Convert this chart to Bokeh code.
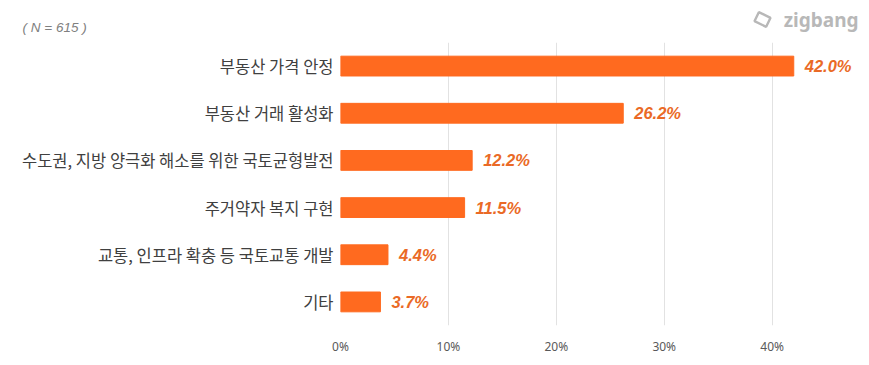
from bokeh.plotting import figure
from bokeh.layouts import column
from bokeh.models import ColumnDataSource, FactorRange, Range1d, FixedTicker
from bokeh.core.properties import value
from bokeh.embed import file_html
from bokeh.resources import INLINE

categories = ["부동산 가격 안정", "부동산 거래 활성화", "수도권, 지방 양극화 해소를 위한 국토균형발전",
              "주거약자 복지 구현", "교통, 인프라 확충 등 국토교통 개발", "기타"]
values = [42.0, 26.2, 12.2, 11.5, 4.4, 3.7]
value_labels = ["42.0%", "26.2%", "12.2%", "11.5%", "4.4%", "3.7%"]
x_ticks = [0, 10, 20, 30, 40]
x_tick_labels = {0: "0%", 10: "10%", 20: "20%", 30: "30%", 40: "40%"}
note = "( N = 615 )"
brand = "zigbang"

BAR = "#FF6A1F"
TXT_ORANGE = "#EA6A26"

W = 861

# ---- header strip (sample note + brand) ----
h = figure(width=W, height=42, output_backend="svg", toolbar_location=None,
           x_range=Range1d(0, W), y_range=Range1d(42, 0),
           min_border=0, min_border_left=0, min_border_right=0,
           min_border_top=0, min_border_bottom=0)
h.frame_align = False
h.axis.visible = False
h.grid.visible = False
h.outline_line_color = None
h.background_fill_color = "white"
h.border_fill_color = "white"
h.text(x=[22], y=[27], text=[note], text_font=value("Liberation Sans"),
       text_font_style="italic", text_font_size="13.5px", text_color="#808080",
       text_align="left", text_baseline="middle")
h.text(x=[858], y=[19], text=[brand], text_font=value("Noto Sans"),
       text_font_style="bold", text_font_size="19px", text_color="#b8b8b8",
       text_align="right", text_baseline="middle")
h.rect(x=[762], y=[19], width=13, height=10, angle=-0.45, fill_color=None,
       line_color="#b8b8b8", line_width=2.4)

# ---- main chart ----
src = ColumnDataSource(dict(cat=categories, val=values, lab=value_labels))

p = figure(width=W, height=315, output_backend="svg", toolbar_location=None,
           y_range=FactorRange(factors=list(reversed(categories))),
           x_range=Range1d(0, 48),
           min_border_left=340, min_border_right=3, min_border_top=0, min_border_bottom=32)
p.frame_align = False
p.outline_line_color = None
p.background_fill_color = "white"
p.border_fill_color = "white"

p.hbar(y="cat", right="val", height=0.42, color=BAR, source=src)
p.text(x="val", y="cat", text="lab", source=src, x_offset=11,
       text_align="left", text_baseline="middle",
       text_font=value("Liberation Sans"), text_font_style="bold italic",
       text_font_size="16.5px", text_color=TXT_ORANGE)

p.xaxis.ticker = FixedTicker(ticks=x_ticks)
p.xaxis.major_label_overrides = x_tick_labels
p.xaxis.axis_line_color = None
p.xaxis.major_tick_line_color = None
p.xaxis.major_tick_out = 0
p.xaxis.major_tick_in = 0
p.xaxis.minor_tick_line_color = None
p.xaxis.major_label_standoff = 12
p.xaxis.major_label_text_font = "Noto Sans"
p.xaxis.major_label_text_font_size = "12px"
p.xaxis.major_label_text_color = "#595959"

p.yaxis.axis_line_color = None
p.yaxis.major_tick_line_color = None
p.yaxis.major_tick_out = 0
p.yaxis.major_tick_in = 0
p.yaxis.major_label_standoff = 7
p.yaxis.major_label_text_font = "Noto Sans CJK KR"
p.yaxis.major_label_text_font_size = "16.5px"
p.yaxis.major_label_text_color = "#404040"

p.ygrid.grid_line_color = None
p.xgrid.grid_line_color = "#e2e2e2"
p.xgrid.ticker = FixedTicker(ticks=x_ticks)

open("out.html", "w").write(file_html(column(h, p, spacing=0), INLINE))
